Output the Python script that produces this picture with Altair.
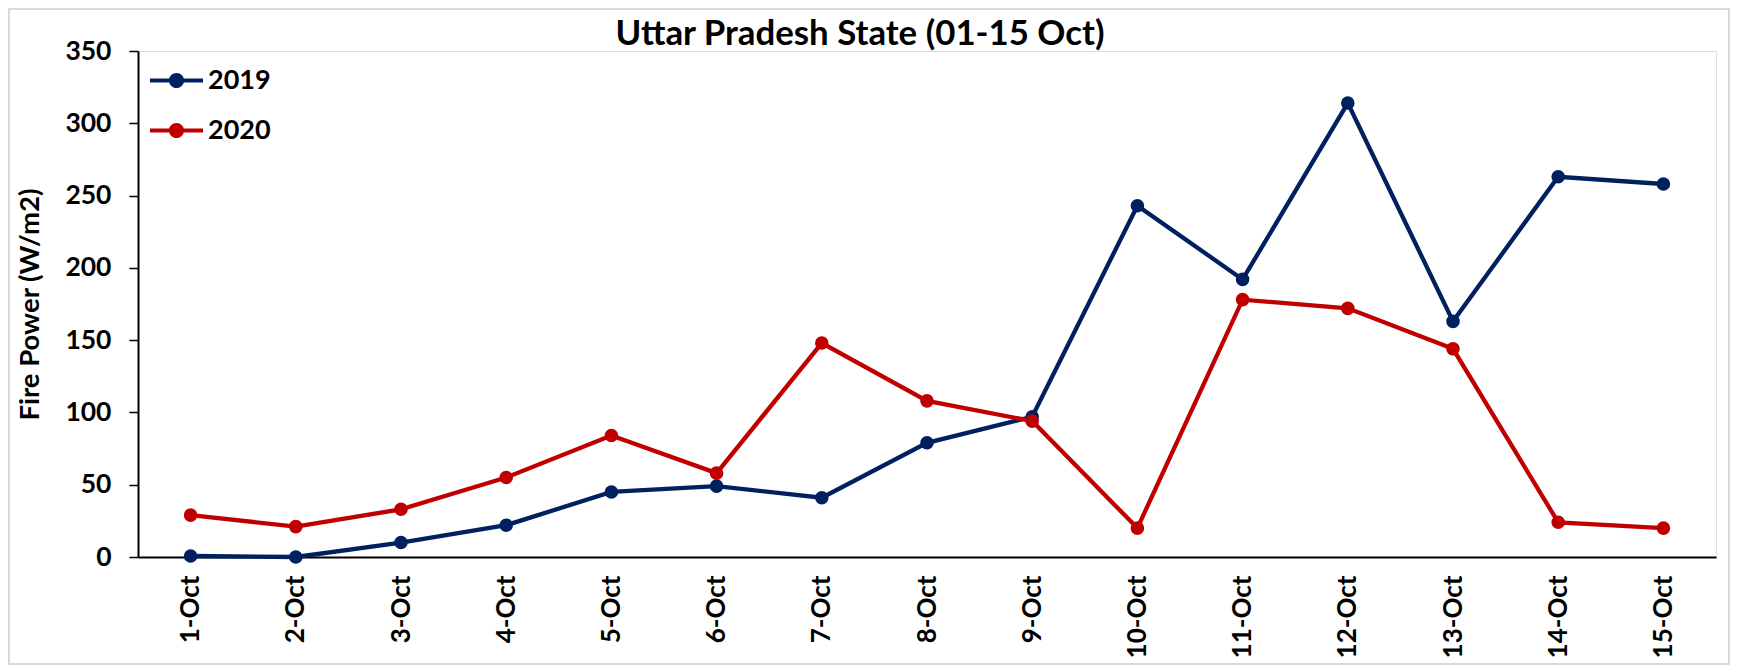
import altair as alt
import pandas as pd

dates = ["1-Oct", "2-Oct", "3-Oct", "4-Oct", "5-Oct", "6-Oct", "7-Oct", "8-Oct",
         "9-Oct", "10-Oct", "11-Oct", "12-Oct", "13-Oct", "14-Oct", "15-Oct"]
v2019 = [0.7, 0, 10, 22, 45, 49, 41, 79, 97, 243, 192, 314, 163, 263, 258]
v2020 = [29, 21, 33, 55, 84, 58, 148, 108, 94, 20, 178, 172, 144, 24, 20]
years = ["2019", "2020"]
colors = ["#002060", "#C00000"]
y_ticks = [0, 50, 100, 150, 200, 250, 300, 350]

rows = []
for d, a in zip(dates, v2019):
    rows.append({"date": d, "value": a, "year": "2019"})
for d, b in zip(dates, v2020):
    rows.append({"date": d, "value": b, "year": "2020"})
df = pd.DataFrame(rows)

FONT = "Lato"
W, H = 1578, 506

x_enc = alt.X("date:N", sort=dates, title=None,
              scale=alt.Scale(type="point", padding=0.5),
              axis=alt.Axis(labelAngle=-90, labelAlign="right", labelBaseline="middle",
                            labelFont=FONT, labelFontSize=26, labelFontWeight="bold",
                            labelColor="#000000", labelPadding=18,
                            ticks=False, tickSize=0,
                            domainColor="#000000", domainWidth=2, grid=False))
y_enc = alt.Y("value:Q", title="Fire Power (W/m2)",
              scale=alt.Scale(domain=[0, 350], nice=False, zero=True),
              axis=alt.Axis(values=y_ticks, labelFont=FONT, labelFontSize=26.5,
                            labelFontWeight="bold", labelColor="#000000",
                            labelPadding=18, tickSize=9, tickColor="#000000",
                            tickWidth=1.5, domainColor="#000000", domainWidth=2,
                            grid=False, titleFont=FONT, titleFontSize=27.5,
                            titleFontWeight="bold", titleColor="#000000",
                            titlePadding=20))

color_scale = alt.Scale(domain=years, range=colors)

legend_path = ("M -1 -0.075 L 1 -0.075 L 1 0.075 L -1 0.075 Z "
               "M 0.285 0 A 0.285 0.285 0 1 1 -0.285 0 A 0.285 0.285 0 1 1 0.285 0 Z")

lines = alt.Chart(df).mark_line(strokeWidth=4.3).encode(
    x=x_enc, y=y_enc,
    color=alt.Color("year:N", scale=color_scale, legend=None),
    detail="year:N",
)

points = alt.Chart(df).mark_circle(size=185, opacity=1).encode(
    x=x_enc, y=y_enc,
    color=alt.Color("year:N", scale=color_scale,
                    legend=alt.Legend(title=None, orient="none", legendX=12, legendY=3,
                                      symbolType=legend_path, symbolSize=2809,
                                      symbolStrokeWidth=0, symbolOpacity=1,
                                      labelFont=FONT, labelFontSize=27,
                                      labelFontWeight="bold", labelColor="#000000",
                                      labelOffset=5, rowPadding=10, padding=0)),
)

frame = alt.Chart(pd.DataFrame({"a": [0]})).mark_rect(
    filled=False, stroke="#d9d9d9", strokeWidth=2
).encode(x=alt.value(-129), x2=alt.value(1591), y=alt.value(-42), y2=alt.value(613))

chart = alt.layer(frame, lines, points).resolve_legend(color="independent").properties(
    width=W, height=H,
    autosize=alt.AutoSizeParams(type="none"),
    padding={"left": 130, "top": 43, "right": 14, "bottom": 110},
    title=alt.TitleParams("Uttar Pradesh State (01-15 Oct)", font=FONT, fontSize=34.8,
                          fontWeight="bold", color="#000000", anchor="middle",
                          dx=-67, dy=74, baseline="alphabetic", offset=2),
).configure_view(stroke=None).configure(background="#ffffff")

chart.save("out.html", embed_options={"renderer": "svg", "actions": False})
